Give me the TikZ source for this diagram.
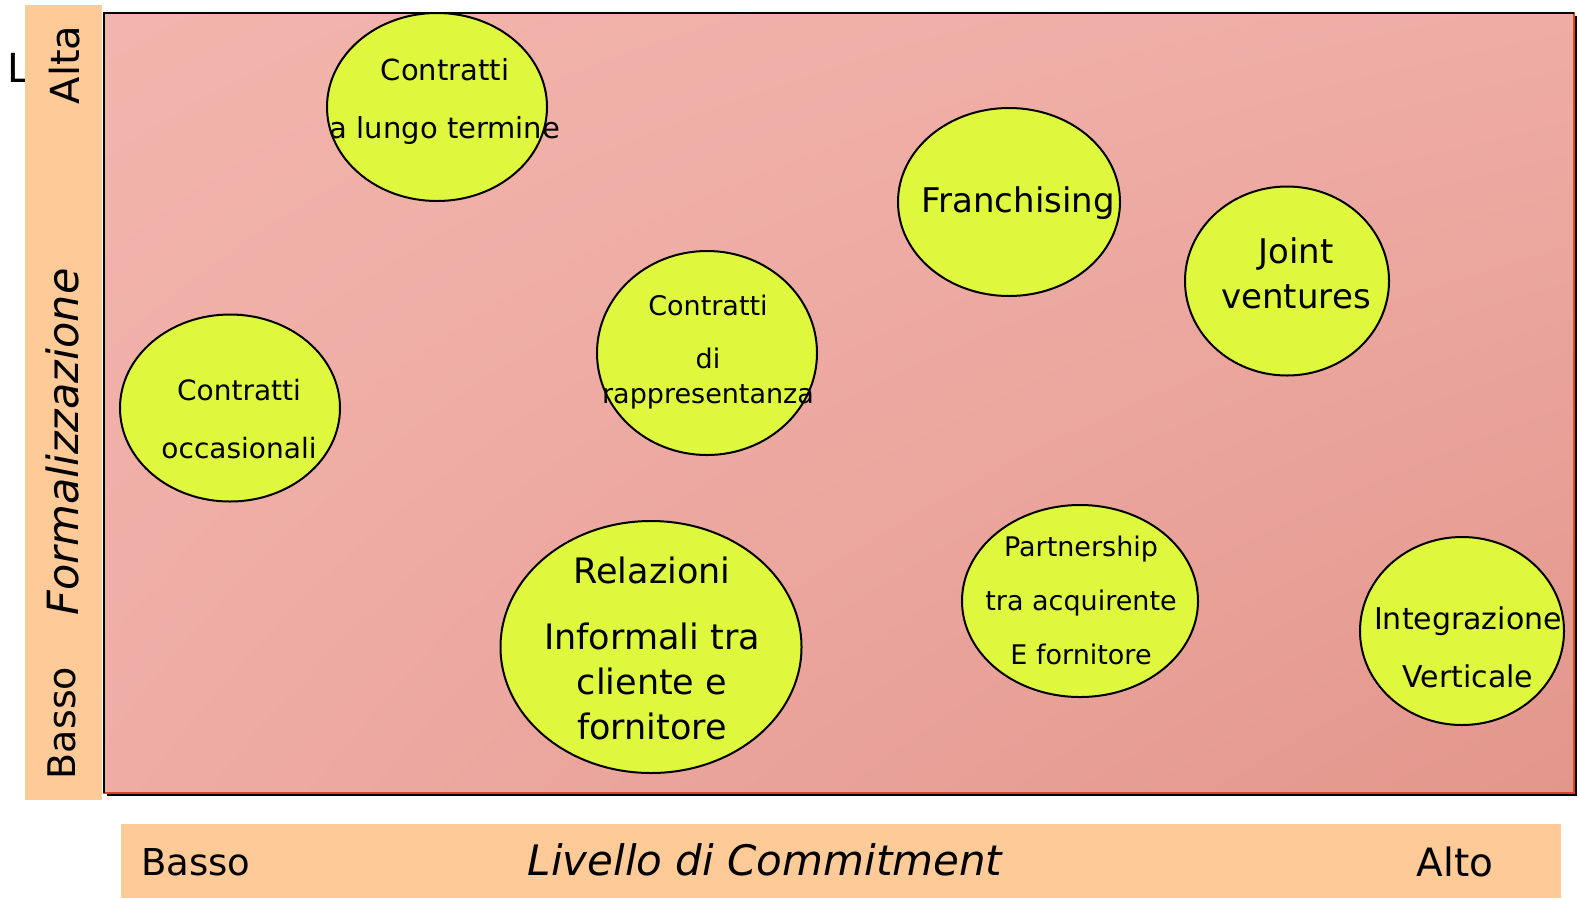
\documentclass[tikz,border=0pt]{standalone}
\usepackage{fontspec}
\setmainfont{DejaVu Sans}
\usetikzlibrary{shapes.geometric,positioning,shadings}
\definecolor{barfill}{RGB}{254,202,152}
\definecolor{bubblefill}{RGB}{223,248,62}
\definecolor{edgered}{RGB}{208,74,32}
\definecolor{pinkA}{RGB}{242,180,172}
\definecolor{pinkB}{RGB}{238,172,165}
\definecolor{pinkC}{RGB}{227,150,140}
\tikzstyle{bubble}=[ellipse, draw, line width=2pt, fill=bubblefill, inner sep=0pt]
\tikzstyle{bar}=[fill=barfill]
\tikzstyle{txt}=[align=center, inner sep=0pt]
\newcommand{\fs}[2]{\fontsize{#1}{#2}\selectfont}

\begin{document}
\begin{tikzpicture}[x=1pt,y=-1pt]
    \useasboundingbox (0,0) rectangle (1578,898);
    \node (stray) at (19,68) [txt,font=\fs{40}{40}] {L};
    % bars
    \fill[bar] (25,5) rectangle (102,800);
    \fill[bar] (121,824) rectangle (1561,898);
    \node (alta) at (65,65) [txt,rotate=90,font=\fs{40}{40}] {Alta};
    \node (form) at (62,442) [txt,rotate=90,font=\fs{43}{43}\itshape] {Formalizzazione};
    \node (bassoy) at (62,723) [txt,rotate=90,font=\fs{38}{38}] {Basso};
    \node (bassox) at (196,862) [txt,font=\fs{37}{37}] {Basso};
    \node (comm) at (765,860) [txt,font=\fs{42}{42}\itshape] {Livello di Commitment};
    \node (altox) at (1455,862) [txt,font=\fs{39}{39}] {Alto};
    % area
    \fill[black] (107,16) rectangle (1577,796);
    \shade[upper left=pinkA, upper right=pinkB, lower left=pinkB, lower right=pinkC,
           draw=edgered, line width=2pt] (104,13) rectangle (1574,793);
    \draw[line width=2pt] (104,793) -- (104,13) -- (1574,13);
    % bubbles
    \node (lungo) at (437,107) [bubble,minimum width=220pt,minimum height=188pt] {};
    \node (franch) at (1009,202) [bubble,minimum width=222pt,minimum height=188pt] {};
    \node (joint) at (1287,281) [bubble,minimum width=204pt,minimum height=189pt] {};
    \node (rappr) at (707,353) [bubble,minimum width=220pt,minimum height=204pt] {};
    \node (occas) at (230,408) [bubble,minimum width=220pt,minimum height=187pt] {};
    \node (relaz) at (651,647) [bubble,minimum width=301pt,minimum height=252pt] {};
    \node (partn) at (1080,601) [bubble,minimum width=236pt,minimum height=192pt] {};
    \node (integr) at (1462,631) [bubble,minimum width=204pt,minimum height=188pt] {};
    % texts
    \node (lungo-t) at (445,101) [txt,font=\fs{29}{58}] {Contratti\\a lungo termine};
    \node (franch-t) at (1018,203) [txt,font=\fs{34}{34}] {Franchising};
    \node (joint-t) at (1296,273) [txt,font=\fs{34}{45}] {Joint\\ventures};
    \node (rappr-t) at (708,352) [txt,font=\fs{27}{35}] {Contratti\\[18pt]di\\rappresentanza};
    \node (occas-t) at (239,419) [txt,font=\fs{28}{58}] {Contratti\\occasionali};
    \node (relaz-t) at (652,648) [txt,font=\fs{35}{45}] {Relazioni\\[21pt]Informali tra\\cliente e\\fornitore};
    \node (partn-t) at (1081,600) [txt,font=\fs{27}{54}] {Partnership\\tra acquirente\\E fornitore};
    \node (integr-t) at (1468,647) [txt,font=\fs{30}{58}] {Integrazione\\Verticale};
\end{tikzpicture}
\end{document}
